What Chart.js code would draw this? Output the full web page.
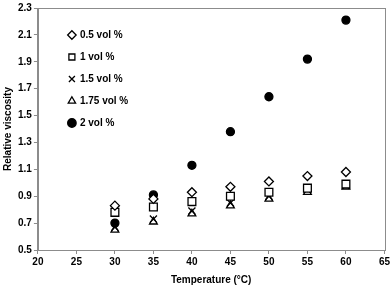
<!DOCTYPE html>
<html>
<head>
<meta charset="utf-8">
<script src="https://cdn.jsdelivr.net/npm/chart.js@4"></script>
<style>
  html, body { margin: 0; padding: 0; background: #fff; }
  #wrap { width: 392px; height: 286px; }
</style>
</head>
<body>
<div id="wrap"><canvas id="myChart"></canvas></div>
<script>
// DONNEES
const temperatures = [30, 35, 40, 45, 50, 55, 60];
const visc05 = [0.83, 0.88, 0.93, 0.97, 1.01, 1.05, 1.08];
const visc1 = [0.78, 0.82, 0.86, 0.90, 0.93, 0.96, 0.99];
const visc15 = [0.67, 0.73, 0.79, 0.85, 0.90, 0.95, 0.98];
const visc175 = [0.65, 0.71, 0.77, 0.83, 0.88, 0.93, 0.97];
const visc2 = [0.70, 0.91, 1.13, 1.38, 1.64, 1.92, 2.21];
const seriesNames = ['0.5 vol %', '1 vol %', '1.5 vol %', '1.75 vol %', '2 vol %'];

function toPoints(values) {
  return temperatures.map((t, i) => ({ x: t, y: values[i] }));
}

const axisColor = '#8c8c8c';
const fontBold = { family: 'Liberation Sans, Arial, sans-serif', size: 10, weight: 'bold' };

// Cadre gris autour de la zone du graphique
const frame = {
  id: 'frame',
  afterDraw(chart) {
    const a = chart.chartArea;
    const ctx = chart.ctx;
    ctx.save();
    ctx.strokeStyle = axisColor;
    ctx.lineWidth = 1;
    ctx.strokeRect(Math.round(a.left) + 0.5, Math.round(a.top) + 0.5,
      Math.round(a.right - a.left), Math.round(a.bottom - a.top));
    ctx.restore();
  }
};

// Légende décalée dans la zone du graphique
const legendShift = {
  id: 'legendShift',
  afterLayout(chart) {
    const a = chart.chartArea;
    chart.legend.left = a.left + 19;
    chart.legend.top = a.top + 10;
  }
};

const datasets = [
  { label: seriesNames[0], data: toPoints(visc05), pointStyle: 'rectRot', pointRadius: 4.5, backgroundColor: '#fff' },
  { label: seriesNames[1], data: toPoints(visc1), pointStyle: 'rect', pointRadius: 5.5, backgroundColor: '#fff' },
  { label: seriesNames[2], data: toPoints(visc15), pointStyle: 'crossRot', pointRadius: 5, backgroundColor: '#fff' },
  { label: seriesNames[3], data: toPoints(visc175), pointStyle: 'triangle', pointRadius: 4.5, backgroundColor: '#fff' },
  { label: seriesNames[4], data: toPoints(visc2), pointStyle: 'circle', pointRadius: 4, backgroundColor: '#000' }
].map(d => Object.assign(d, { borderColor: '#000', borderWidth: 1.3, showLine: false }));

const config = {
  type: 'scatter',
  data: { datasets: datasets },
  options: {
    responsive: true,
    maintainAspectRatio: false,
    animation: false,
    layout: { padding: { left: 2, right: 2, top: 0, bottom: 0 } },
    plugins: {
      tooltip: { enabled: false },
      legend: {
        position: 'chartArea',
        align: 'start',
        labels: {
          usePointStyle: true,
          boxWidth: 6,
          boxHeight: 6,
          padding: 12,
          color: '#000',
          font: fontBold
        }
      }
    },
    scales: {
      x: {
        type: 'linear',
        min: 20,
        max: 65,
        ticks: { stepSize: 5, color: '#000', font: fontBold, padding: 2, maxRotation: 0 },
        grid: { drawOnChartArea: false, drawTicks: true, tickLength: 4, color: axisColor },
        border: { display: true, color: axisColor },
        title: { display: true, text: 'Temperature (°C)', color: '#000', font: fontBold, padding: { top: 4, bottom: 0 } }
      },
      y: {
        type: 'linear',
        min: 0.5,
        max: 2.3,
        ticks: { stepSize: 0.2, color: '#000', font: fontBold, padding: 2, callback: v => v.toFixed(1) },
        grid: { drawOnChartArea: false, drawTicks: true, tickLength: 4, color: axisColor },
        border: { display: true, color: axisColor },
        title: { display: true, text: 'Relative viscosity', color: '#000', font: fontBold, padding: { top: 0, bottom: 2 } }
      }
    }
  },
  plugins: [frame, legendShift]
};

const myChart = new Chart(document.getElementById('myChart'), config);
</script>
</body>
</html>
